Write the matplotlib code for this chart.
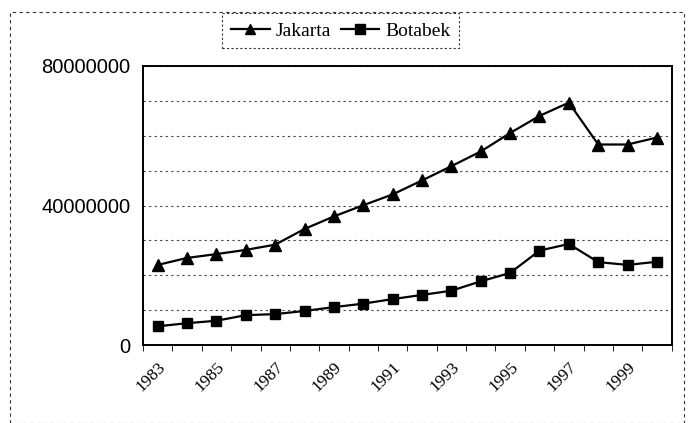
import matplotlib
matplotlib.use("Agg")
import matplotlib.pyplot as plt
from matplotlib.ticker import MultipleLocator, FixedLocator
from matplotlib.patches import Rectangle
from matplotlib.lines import Line2D

years = list(range(1983, 2001))
jakarta = [23.0, 25.0, 26.1, 27.3, 28.8, 33.3, 36.9, 40.1, 43.2, 47.2, 51.3, 55.5,
           60.8, 65.7, 69.5, 57.5, 57.5, 59.5]
botabek = [5.4, 6.3, 7.0, 8.6, 8.9, 9.8, 10.9, 11.9, 13.2, 14.4, 15.6, 18.3,
           20.7, 27.1, 29.0, 23.8, 23.0, 23.9]
jakarta = [v * 1e6 for v in jakarta]
botabek = [v * 1e6 for v in botabek]
tick_years = [str(y) for y in years[::2]]
yticks = [0, 40000000, 80000000]

plt.rcParams['font.family'] = ['Liberation Sans', 'DejaVu Sans']

fig = plt.figure(figsize=(6.91, 4.23), dpi=100)
ax = fig.add_axes([0.207, 0.184, 0.765, 0.660])

x = list(range(len(years)))
ax.plot(x, jakarta, color='black', lw=1.6, marker='^', ms=8, label='Jakarta')
ax.plot(x, botabek, color='black', lw=1.6, marker='s', ms=7.5, label='Botabek')

ax.set_xlim(-0.5, len(years) - 0.5)
ax.set_ylim(0, 80000000)
ax.yaxis.set_major_locator(FixedLocator(yticks))
ax.set_yticklabels([str(v) for v in yticks], fontsize=14.5)
ax.yaxis.set_minor_locator(MultipleLocator(10000000))
ax.tick_params(axis='y', which='both', length=0, pad=9)
ax.grid(axis='y', which='both', linestyle=(0, (2, 3)), color='#444444', lw=0.8)

ax.set_xticks(x[::2])
ax.set_xticklabels(tick_years, rotation=45, ha='right', rotation_mode='anchor',
                   fontsize=12.5, family=['Liberation Serif', 'DejaVu Serif'])
ax.set_xticks([i - 0.5 for i in range(len(years) + 1)], minor=True)
ax.tick_params(axis='x', which='major', length=0, pad=10)
ax.tick_params(axis='x', which='minor', length=4, direction='out')

for s in ax.spines.values():
    s.set_linewidth(1.4)
    s.set_color('black')

leg = fig.legend(handles=[Line2D([], [], color='black', lw=1.6, marker='^', ms=7),
                          Line2D([], [], color='black', lw=1.6, marker='s', ms=7)],
                 labels=['Jakarta', 'Botabek'], loc='center', ncol=2,
                 bbox_to_anchor=(0.493, 0.927), frameon=True,
                 prop={'family': ['Liberation Serif', 'DejaVu Serif'], 'size': 14},
                 fancybox=False, edgecolor='black', handlelength=2.0,
                 handletextpad=0.3, columnspacing=0.5, borderpad=0.45)
leg.get_frame().set_linestyle((0, (2, 2)))
leg.get_frame().set_linewidth(0.8)

# scanned outer border
fig.patches.append(Rectangle((0.015, 0.0), 0.975, 0.972, transform=fig.transFigure,
                             fill=False, ls=(0, (3, 3)), lw=0.8, ec='#333333'))

fig.savefig('out.png', dpi=100)
